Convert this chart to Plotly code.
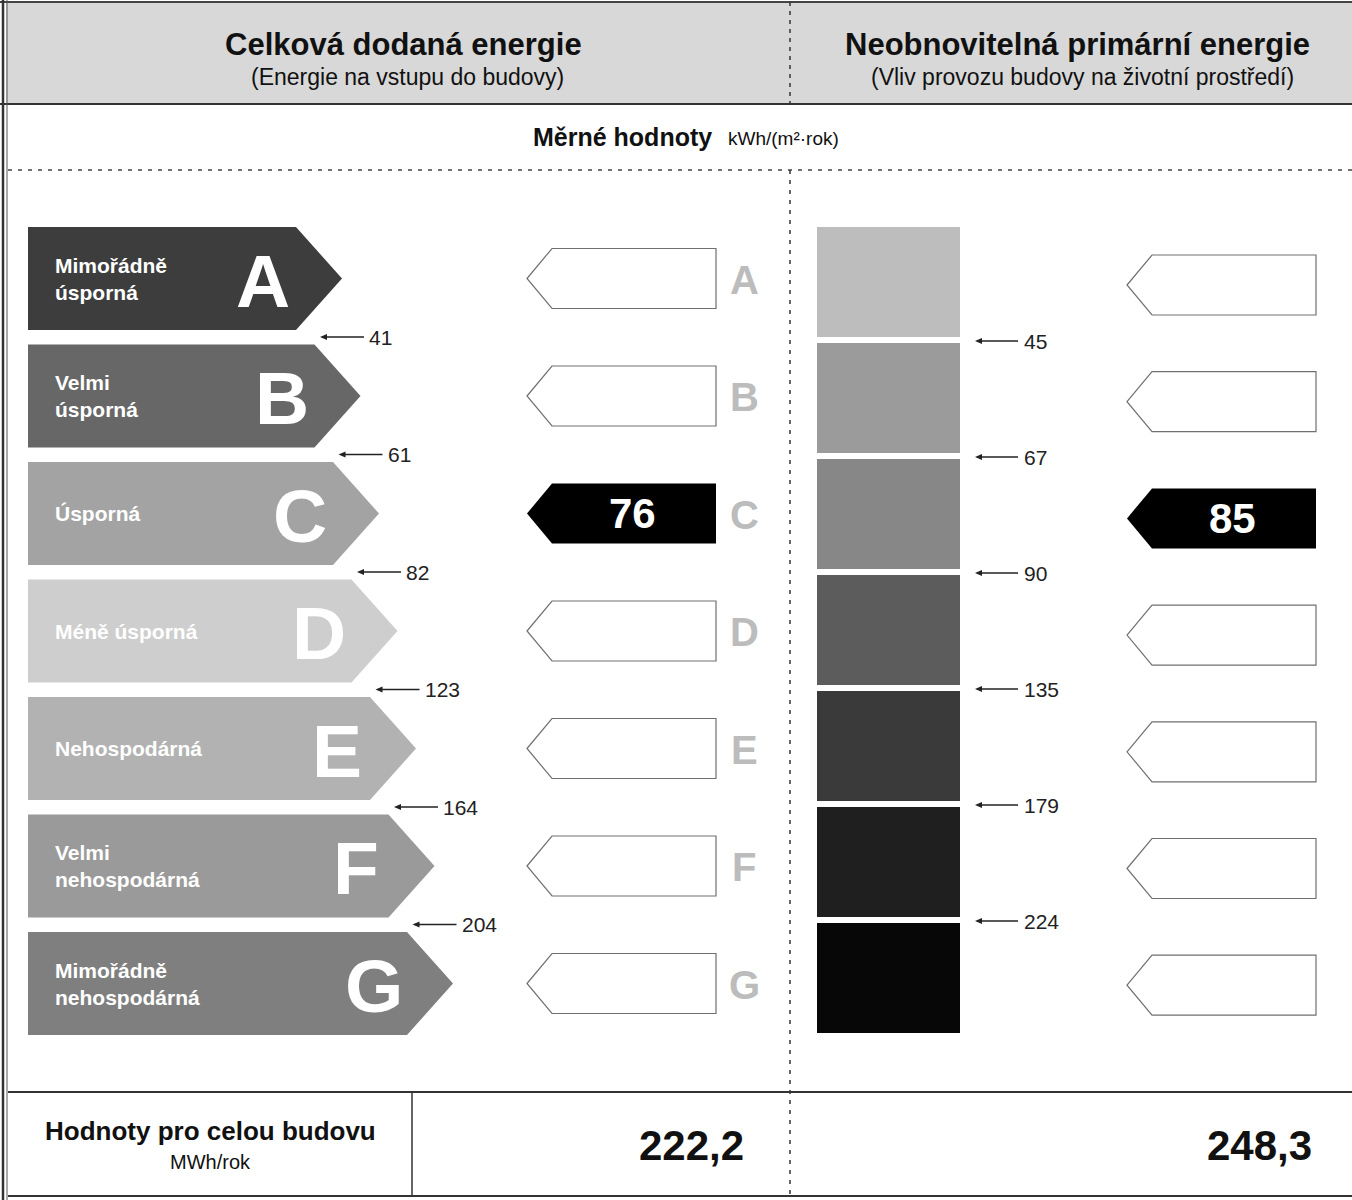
import plotly.graph_objects as go
from bisect import bisect_right

# ---------------- data ----------------
classes = ["A", "B", "C", "D", "E", "F", "G"]
class_names = ["Mimořádně<br>úsporná", "Velmi<br>úsporná", "Úsporná", "Méně úsporná",
               "Nehospodárná", "Velmi<br>nehospodárná", "Mimořádně<br>nehospodárná"]
delivered_limits = [41, 61, 82, 123, 164, 204]
primary_limits = [45, 67, 90, 135, 179, 224]
delivered_specific = 76
primary_specific = 85
delivered_total = 222.2
primary_total = 248.3

header_titles = ["Celková dodaná energie", "Neobnovitelná primární energie"]
header_subtitles = ["(Energie na vstupu do budovy)", "(Vliv provozu budovy na životní prostředí)"]
section_title = "Měrné hodnoty"
section_unit = "kWh/(m²·rok)"
total_label = "Hodnoty pro celou budovu"
total_unit = "MWh/rok"

# ---------------- styles ----------------
band_colors = ["#3d3d3d", "#676767", "#a3a3a3", "#cecece", "#b2b2b2", "#9a9a9a", "#7f7f7f"]
square_colors = ["#bdbdbd", "#9b9b9b", "#878787", "#5c5c5c", "#3a3a3a", "#1f1f1f", "#070707"]
FONT = "Liberation Sans, Arial, sans-serif"
W, H = 1352, 1200
DIV_X = 790

fig = go.Figure()
shapes = []
ann = []


def line(x0, y0, x1, y1, color="#333", width=1.5, dash="solid"):
    shapes.append(dict(type="line", x0=x0, y0=y0, x1=x1, y1=y1, xref="x", yref="y",
                       line=dict(color=color, width=width, dash=dash)))


def text(x, y, s, size, color="#111", bold=False, xanchor="center", yanchor="middle", align="center"):
    ann.append(dict(x=x, y=y, xref="x", yref="y", text=(f"<b>{s}</b>" if bold else s),
                    showarrow=False, xanchor=xanchor, yanchor=yanchor, align=align,
                    font=dict(family=FONT, size=size, color=color)))


def pointer(x0, y, length=44):
    # small left-pointing arrow "<——"
    line(x0 + 3, y, x0 + length, y, "#222", 1.3)
    shapes.append(dict(type="path", xref="x", yref="y",
                       path=f"M {x0},{y} L {x0 + 7},{y - 3} L {x0 + 7},{y + 3} Z",
                       fillcolor="#222", line=dict(width=0)))


def fmt(v):
    return f"{v:.1f}".replace(".", ",")


# ---------------- frame / header ----------------
shapes.append(dict(type="rect", x0=6, x1=W, y0=2, y1=104, xref="x", yref="y",
                   fillcolor="#d8d8d8", line=dict(width=0), layer="below"))
line(0, 2, W, 2, "#444", 2)
line(0, 104, W, 104, "#333", 2)
line(3, 0, 3, H, "#333", 2.5)
line(7, 0, 7, H, "#555", 1)
line(DIV_X, 2, DIV_X, 104, "#333", 1.5, "4px,5px")
line(8, 170, W, 170, "#444", 1.5, "4px,6px")
line(DIV_X, 170, DIV_X, 1196, "#333", 1.5, "4px,6px")
line(8, 1092, W, 1092, "#333", 2)
line(8, 1196, W, 1196, "#333", 2)
line(412, 1092, 412, 1196, "#333", 1.5)

text(403, 44, header_titles[0], 31, bold=True)
text(407, 77, header_subtitles[0], 23)
text(1077, 44, header_titles[1], 31, bold=True)
text(1082, 77, header_subtitles[1], 23)
text(714, 137, section_title, 25, bold=True, xanchor="right")
text(726, 138, section_unit, 19, xanchor="left")

# ---------------- left: delivered energy classes ----------------
L_TOP, L_PITCH, L_H = 227, 117.5, 103
L_LEFT, TIP0, TIP_STEP, TIP_DEPTH = 28, 342, 18.5, 46
d_idx = bisect_right(delivered_limits, delivered_specific)
for i, c in enumerate(classes):
    top = L_TOP + L_PITCH * i
    bot = top + L_H
    mid = (top + bot) / 2
    tip = TIP0 + TIP_STEP * i
    be = tip - TIP_DEPTH
    shapes.append(dict(type="path", xref="x", yref="y",
                       path=f"M {L_LEFT},{top} L {be},{top} L {tip},{mid} L {be},{bot} L {L_LEFT},{bot} Z",
                       fillcolor=band_colors[i], line=dict(width=0)))
    text(53, mid, class_names[i], 21, "#ffffff", bold=True, xanchor="left", align="left")
    text(tip - 79, mid + 2, c, 75, "#ffffff", bold=True)

    # indicator column
    a_tip, a_right, a_half = 527, 716, 30
    filled = (i == d_idx)
    shapes.append(dict(type="path", xref="x", yref="y",
                       path=f"M {a_tip},{mid} L {a_tip + 25},{mid - a_half} L {a_right},{mid - a_half} "
                            f"L {a_right},{mid + a_half} L {a_tip + 25},{mid + a_half} Z",
                       fillcolor="#000000" if filled else "#ffffff",
                       line=dict(width=0 if filled else 1.2, color="#707070")))
    if filled:
        text(632, mid, str(delivered_specific), 42, "#ffffff", bold=True)
    text(744, mid + 1, c, 40, "#bcbcbc", bold=True)

for i, v in enumerate(delivered_limits):
    y = L_TOP + L_PITCH * i + L_H + 7
    x0 = TIP0 + TIP_STEP * i - 22
    pointer(x0, y)
    text(x0 + 47, y, str(v), 21, "#222", xanchor="left")

# ---------------- right: non-renewable primary energy ----------------
R_TOP, R_PITCH, R_H = 227, 116, 110
p_idx = bisect_right(primary_limits, primary_specific)
for i, c in enumerate(classes):
    top = R_TOP + R_PITCH * i
    bot = top + R_H
    shapes.append(dict(type="rect", xref="x", yref="y", x0=817, x1=960, y0=top, y1=bot,
                       fillcolor=square_colors[i], line=dict(width=0)))
    mid = 285 + 116.7 * i
    a_tip, a_right, a_half = 1127, 1316, 30
    filled = (i == p_idx)
    shapes.append(dict(type="path", xref="x", yref="y",
                       path=f"M {a_tip},{mid} L {a_tip + 25},{mid - a_half} L {a_right},{mid - a_half} "
                            f"L {a_right},{mid + a_half} L {a_tip + 25},{mid + a_half} Z",
                       fillcolor="#000000" if filled else "#ffffff",
                       line=dict(width=0 if filled else 1.2, color="#707070")))
    if filled:
        text(1232, mid, str(primary_specific), 42, "#ffffff", bold=True)

for i, v in enumerate(primary_limits):
    y = R_TOP + R_PITCH * i + R_H + 4
    x0 = 975
    pointer(x0, y, 43)
    text(x0 + 47, y, str(v), 21, "#222", xanchor="left")

# ---------------- totals row ----------------
text(210, 1131, total_label, 26, bold=True)
text(210, 1162, total_unit, 20)
text(746, 1145, fmt(delivered_total), 42, bold=True, xanchor="right")
text(1314, 1145, fmt(primary_total), 42, bold=True, xanchor="right")

fig.update_layout(
    width=W, height=H, margin=dict(l=0, r=0, t=0, b=0),
    paper_bgcolor="#ffffff", plot_bgcolor="#ffffff",
    xaxis=dict(range=[0, W], visible=False, fixedrange=True),
    yaxis=dict(range=[H, 0], visible=False, fixedrange=True),
    shapes=shapes, annotations=ann, showlegend=False,
)
fig.write_html("out.html", config={"displayModeBar": False},
               post_script="document.body.style.margin='0';")
